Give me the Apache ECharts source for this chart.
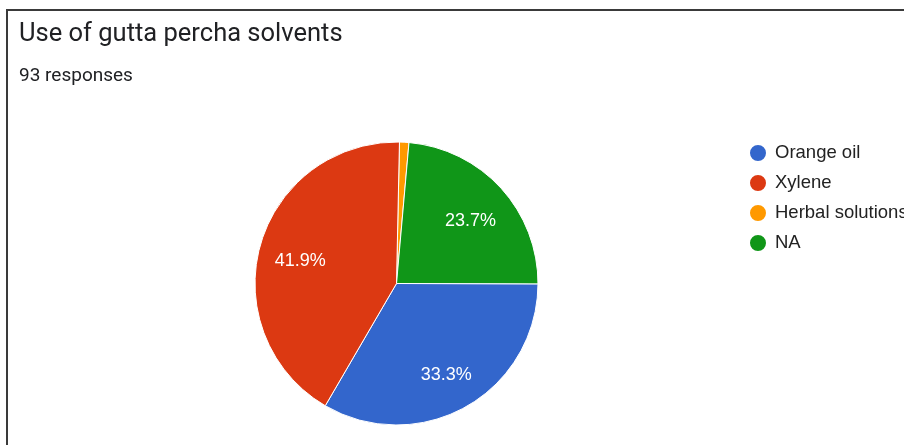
<!DOCTYPE html>
<html>
<head>
<meta charset="utf-8">
<script src="https://cdn.jsdelivr.net/npm/echarts@6/dist/echarts.min.js"></script>
<style>
  html, body { margin: 0; padding: 0; background: #fff; }
  #main { width: 904px; height: 445px; }
</style>
</head>
<body>
<div id="main"></div>
<script>
'use strict'
// data, in the order the slices run clockwise from 12 o'clock
var names = ['Herbal solutions', 'NA', 'Orange oil', 'Xylene']
var counts = [1, 22, 31, 39]
var colors = ['#ff9900', '#109618', '#3366cc', '#dc3912']
// legend shows them in form order
var legendOrder = ['Orange oil', 'Xylene', 'Herbal solutions', 'NA']
var titleText = 'Use of gutta percha solvents'
var subText = '93 responses'

var myChart = echarts.init(document.getElementById('main'))

var total = counts.reduce(function (a, b) { return a + b }, 0)
var sliceData = names.map(function (n, i) {
    return { name: n, value: counts[i], itemStyle: { color: colors[i] } }
})
// transparent ring that only carries the labels further out than 'inside' would
var labelData = names.map(function (n, i) {
    return {
        name: n, value: counts[i],
        label: { show: counts[i] / total > 0.05 }
    }
})

var center = [396.5, 283.5]
var option = {
    animation: false,
    graphic: [{
        type: 'rect',
        shape: { x: 7, y: 10, width: 1200, height: 1200 },
        style: { fill: 'none', stroke: '#3a3a3a', lineWidth: 2 },
        silent: true
    }],
    title: [{
        text: titleText,
        left: 14, top: 17,
        textStyle: { fontFamily: 'Roboto', fontSize: 25.5, fontWeight: 'normal', color: '#202124' }
    }, {
        text: subText,
        left: 14, top: 62,
        textStyle: { fontFamily: 'Roboto', fontSize: 19, fontWeight: 'normal', color: '#202124' }
    }],
    legend: {
        orient: 'vertical',
        left: 748, top: 143,
        padding: 0,
        data: legendOrder,
        icon: 'circle',
        itemWidth: 18, itemHeight: 18,
        itemGap: 10,
        textStyle: { fontFamily: 'Liberation Sans', fontSize: 18.5, lineHeight: 18, color: '#222222', padding: [0, 0, 0, 3] },
        selectedMode: false
    },
    series: [{
        name: 'slices',
        type: 'pie',
        center: center,
        radius: [0, 141.5],
        startAngle: 88.8,
        clockwise: true,
        avoidLabelOverlap: false,
        label: { show: false },
        labelLine: { show: false },
        itemStyle: { borderColor: '#ffffff', borderWidth: 1 },
        emphasis: { disabled: true },
        data: sliceData
    }, {
        name: 'labels',
        type: 'pie',
        center: center,
        radius: [52.5, 141.5],
        startAngle: 88.8,
        clockwise: true,
        silent: true,
        avoidLabelOverlap: false,
        itemStyle: { color: 'rgba(0,0,0,0)' },
        label: {
            show: true,
            position: 'inside',
            color: '#ffffff',
            fontFamily: 'Liberation Sans',
            fontSize: 18,
            offset: [0, 5],
            formatter: function (p) { return p.percent.toFixed(1) + '%' }
        },
        labelLine: { show: false },
        emphasis: { disabled: true },
        data: labelData
    }]
}
myChart.setOption(option)
</script>
</body>
</html>
